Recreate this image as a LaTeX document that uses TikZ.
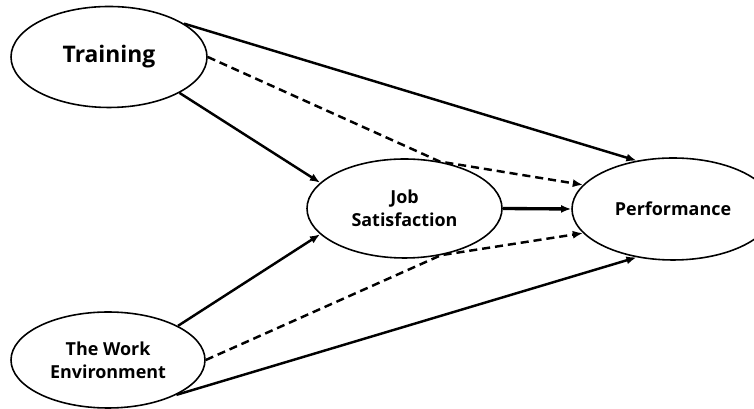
\documentclass[tikz,border=0pt]{standalone}
\usepackage{fontspec}
\setmainfont{Open Sans}
\usepackage{tikz}
\usetikzlibrary{shapes.geometric, arrows.meta}

\begin{document}
\begin{tikzpicture}[
  var/.style={draw, ellipse, line width=0.9pt, inner sep=0pt, align=center, font=\bfseries\fontsize{10.2}{13}\selectfont},
  seta/.style={line width=1.4pt, -{Latex[length=5.8pt,width=4.6pt]}},
  indireta/.style={seta, dash pattern=on 4.6pt off 2.8pt}
]
\useasboundingbox (0,0) rectangle (15.08,8.18);

% Variaveis
\node[var, minimum width=3.92cm, minimum height=2.02cm, font=\bfseries\fontsize{13}{15}\selectfont] (train) at (2.18,7.04) {Training};
\node[var, minimum width=3.88cm, minimum height=1.92cm] (work) at (2.16,0.98) {The Work\\Environment};
\node[var, minimum width=3.9cm, minimum height=1.98cm] (js) at (8.09,4.01) {Job\\Satisfaction};
\node[var, minimum width=4.04cm, minimum height=2.04cm] (perf) at (13.46,4.0) {Performance};

% Efeitos diretos
\draw[seta] (train.24) -- (perf.127);
\draw[seta] (train.-27) -- (js.163);
\draw[seta] (work.26) -- (js.197);
\draw[seta] (work.-27) -- (perf.233);
\draw[seta, line width=1.9pt] (js.east) -- (perf.west);

% Efeitos indiretos
\draw[indireta] (train.east) -- (js.53) -- (perf.165);
\draw[indireta] (work.east) -- (js.-52) -- (perf.195);

\end{tikzpicture}
\end{document}
